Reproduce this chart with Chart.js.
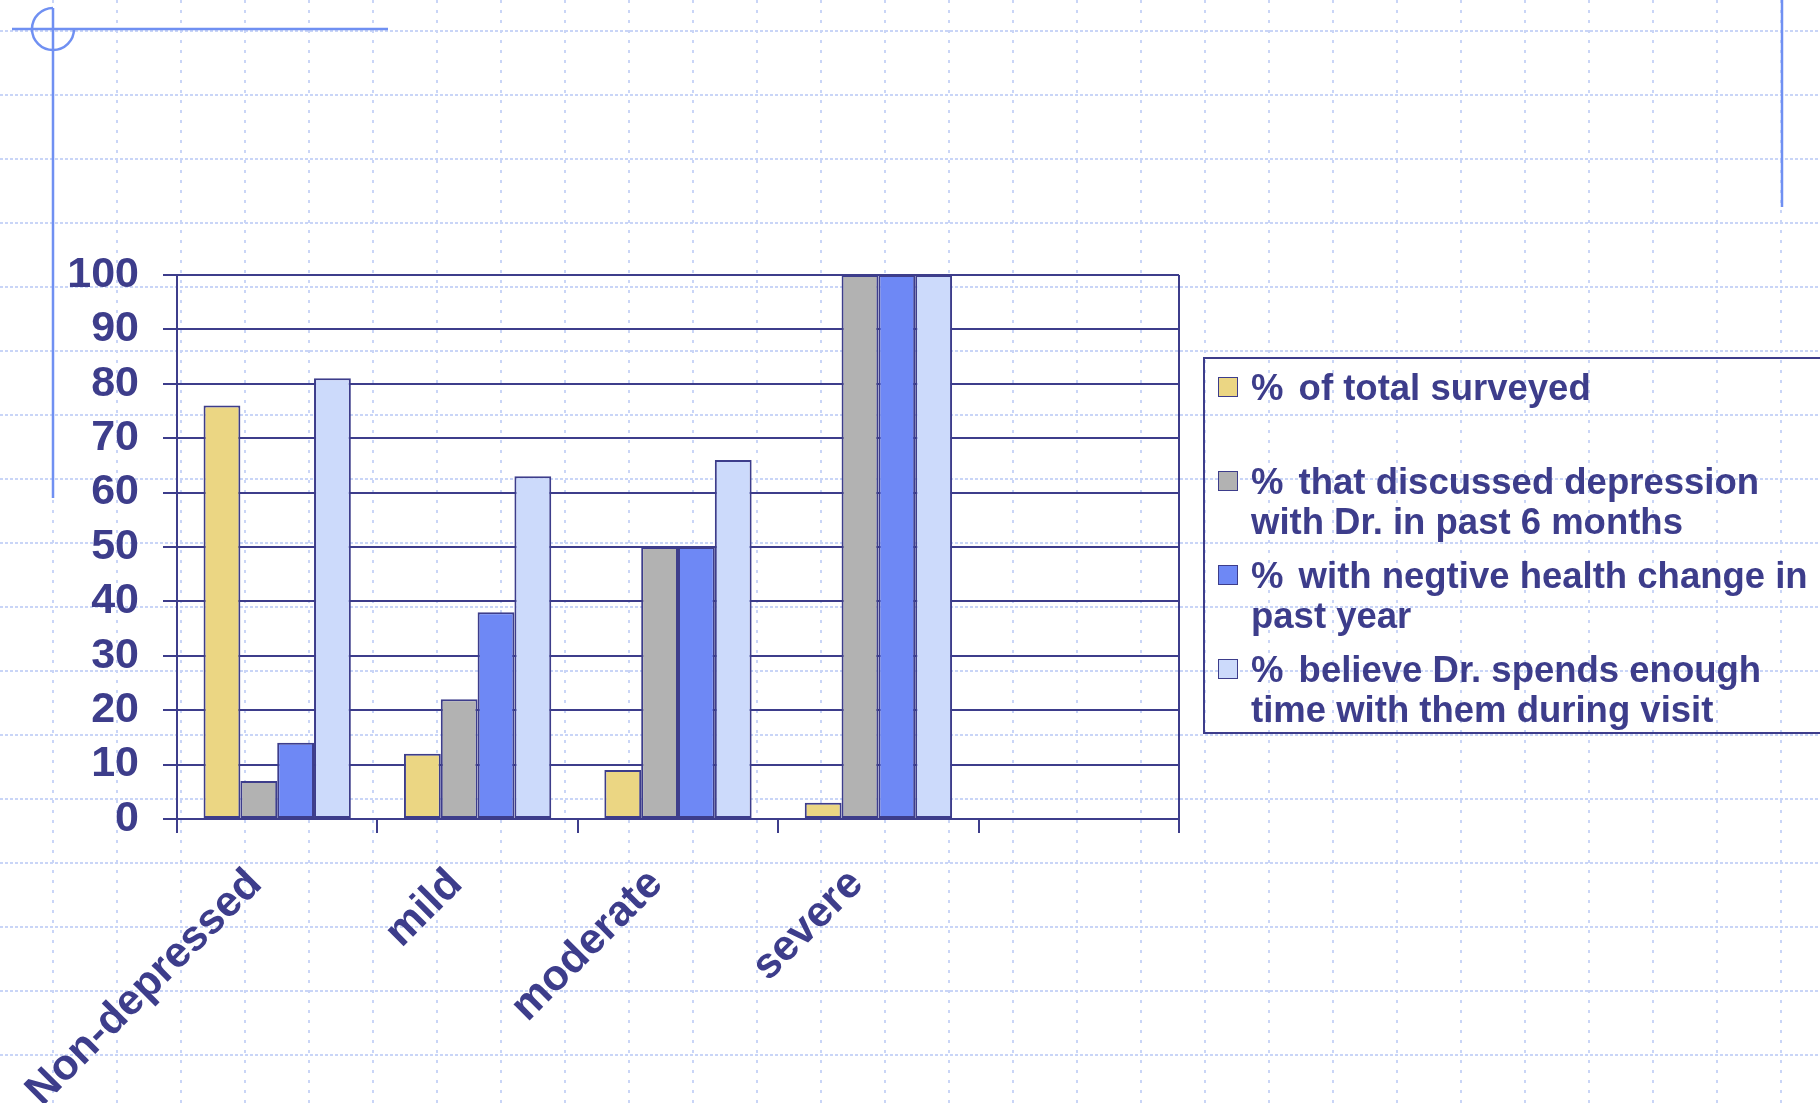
<!DOCTYPE html>
<html>
<head>
<meta charset="utf-8">
<script src="https://cdn.jsdelivr.net/npm/chart.js@4.4.1/dist/chart.umd.min.js"></script>
<style>
  html, body { margin: 0; padding: 0; width: 1820px; height: 1103px; overflow: hidden; background: #fff; }
  #wrap { position: relative; width: 1820px; height: 1103px; }
  #grafico { position: absolute; left: 0; top: 0; }
  #leyenda {
    position: absolute; left: 1203px; top: 357px; width: 700px; height: 373px;
    border: 2.5px solid #3d3d8b; font-family: "Liberation Sans", Arial, sans-serif;
    font-weight: bold; font-size: 36.5px; color: #3d3d8b;
  }
  .item { position: absolute; left: 0; }
  .caja { position: absolute; left: 13px; top: 9px; width: 18px; height: 18px; border: 1.5px solid #3d3d8b; }
  .texto { position: absolute; left: 46px; top: 0; line-height: 40px; white-space: pre; }
  .pct { padding-right: 5px; }
</style>
</head>
<body>
<div id="wrap">
  <canvas id="grafico" width="1820" height="1103"></canvas>
  <div id="leyenda"></div>
</div>
<script>
const categorias = ["Non-depressed", "mild", "moderate", "severe", ""];
const totalEncuestados = [76, 12, 9, 3, null];
const hablaronDepresion = [7, 22, 50, 100, null];
const cambioNegativo = [14, 38, 50, 100, null];
const tiempoSuficiente = [81, 63, 66, 100, null];
const etiquetasSeries = [
  ["% of total surveyed"],
  ["% that discussed depression", "with Dr. in past 6 months"],
  ["% with negtive health change in", "past year"],
  ["% believe Dr. spends enough", "time with them during visit"],
];
const coloresSeries = ["#ebd683", "#b2b2b2", "#6e88f5", "#ccdafb"];
const yMin = 0, yMax = 100, yPaso = 10;

const azul = "#3d3d8b";
const fuenteY = { family: "'Liberation Sans', Arial, sans-serif", weight: "bold", size: 43 };
const fuenteX = { family: "'Liberation Sans', Arial, sans-serif", weight: "bold", size: 43 };

// slide background: dotted grid and the decorative lines
const fondo = {
  id: "fondo",
  beforeDraw(chart) {
    const ctx = chart.ctx;
    ctx.save();
    ctx.fillStyle = "#fff";
    ctx.fillRect(0, 0, chart.width, chart.height);
    ctx.strokeStyle = "#c9d5f7";
    ctx.lineWidth = 2;
    ctx.setLineDash([3, 2]);
    for (let y = 31; y < chart.height; y += 64) {
      ctx.beginPath(); ctx.moveTo(0, y); ctx.lineTo(chart.width, y); ctx.stroke();
    }
    ctx.setLineDash([3, 7]);
    for (let x = 53; x < chart.width; x += 64) {
      ctx.beginPath(); ctx.moveTo(x, 0); ctx.lineTo(x, chart.height); ctx.stroke();
    }
    ctx.setLineDash([]);
    ctx.strokeStyle = "#7090f2";
    ctx.lineWidth = 2.5;
    ctx.beginPath(); ctx.moveTo(12, 29); ctx.lineTo(388, 29); ctx.stroke();
    ctx.beginPath(); ctx.moveTo(53, 8); ctx.lineTo(53, 498); ctx.stroke();
    ctx.beginPath(); ctx.arc(53, 29, 21, 0, Math.PI * 1.5); ctx.stroke();
    ctx.beginPath(); ctx.moveTo(1782, 0); ctx.lineTo(1782, 207); ctx.stroke();
    ctx.restore();
  },
  afterDraw(chart) {
    const { ctx, chartArea } = chart;
    ctx.save();
    ctx.strokeStyle = azul;
    ctx.lineWidth = 2;
    ctx.beginPath();
    ctx.moveTo(chartArea.right, chartArea.top);
    ctx.lineTo(chartArea.right, chartArea.bottom);
    ctx.stroke();
    ctx.restore();
  },
};

const series = [totalEncuestados, hablaronDepresion, cambioNegativo, tiempoSuficiente];
const datasets = series.map((valores, i) => ({
  label: etiquetasSeries[i].join(" "),
  data: valores,
  backgroundColor: coloresSeries[i],
  borderColor: azul,
  borderWidth: 2,
  borderSkipped: false,
}));

const grafico = new Chart(document.getElementById("grafico"), {
  type: "bar",
  data: { labels: categorias, datasets: datasets },
  options: {
    responsive: false,
    animation: false,
    devicePixelRatio: 1,
    layout: { padding: { top: 275, right: 641, left: 0, bottom: 0 } },
    datasets: { bar: { categoryPercentage: 0.735, barPercentage: 1 } },
    plugins: { legend: { display: false }, tooltip: { enabled: false } },
    scales: {
      x: {
        offset: true,
        grid: { offset: true, drawOnChartArea: false, color: azul, lineWidth: 2, tickLength: 14 },
        border: { color: azul, width: 2 },
        ticks: {
          minRotation: 45, maxRotation: 45, autoSkip: false,
          labelOffset: -22, padding: 26, color: azul, font: fuenteX,
        },
        afterFit: (s) => { s.height = 1103 - 819; },
      },
      y: {
        min: yMin, max: yMax,
        ticks: { stepSize: yPaso, autoSkip: false, padding: 24, color: azul, font: fuenteY },
        grid: { color: azul, lineWidth: 2, tickLength: 14 },
        border: { color: azul, width: 2 },
        afterFit: (s) => { s.width = 177; },
      },
    },
  },
  plugins: [fondo],
});

// legend built from the chart's own datasets
const leyenda = document.getElementById("leyenda");
grafico.data.datasets.forEach((ds, i) => {
  const lineas = etiquetasSeries[i].slice();
  lineas[0] = lineas[0].replace(/^% /, '<span class="pct">%</span> ');
  const item = document.createElement("div");
  item.className = "item";
  item.style.top = (9 + 94 * i) + "px";
  item.innerHTML = `<div class="caja" style="background:${ds.backgroundColor}"></div>` +
    `<div class="texto">${lineas.join("\n")}</div>`;
  leyenda.appendChild(item);
});
</script>
</body>
</html>
